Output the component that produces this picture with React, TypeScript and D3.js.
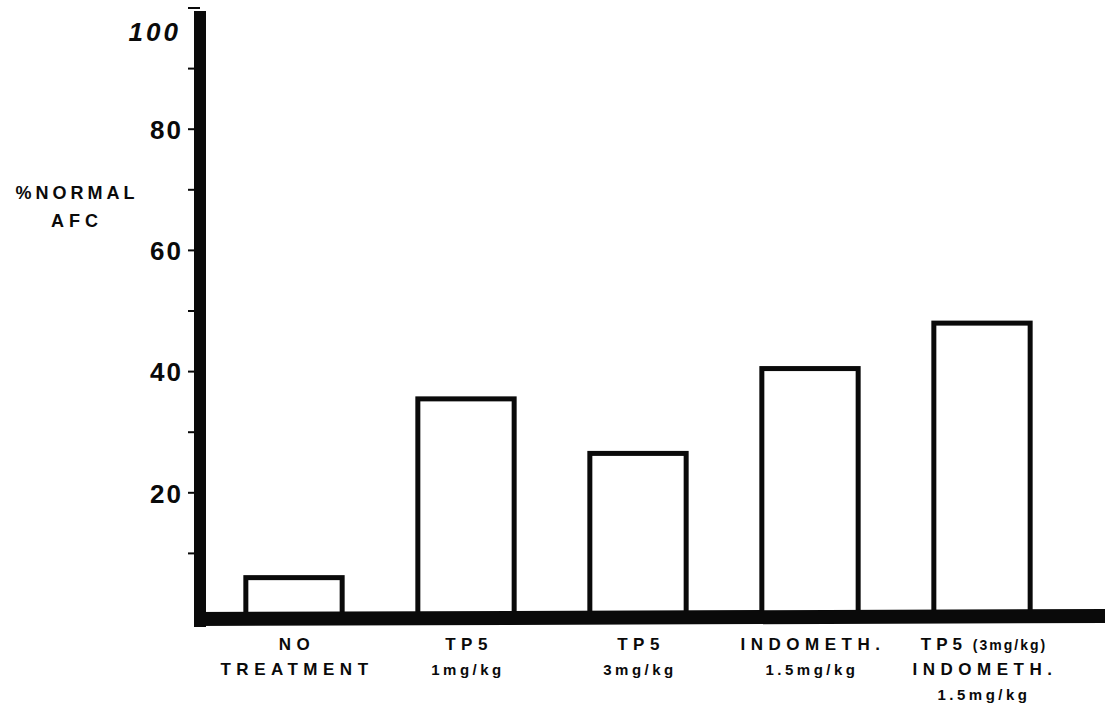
import * as d3 from 'd3';

// Data
const categories = ['NO TREATMENT', 'TP5 1mg/kg', 'TP5 3mg/kg', 'INDOMETH. 1.5mg/kg', 'TP5 (3mg/kg) INDOMETH. 1.5mg/kg'];
const categoryLines = [
  ['NO', 'TREATMENT'],
  ['TP5', '1mg/kg'],
  ['TP5', '3mg/kg'],
  ['INDOMETH.', '1.5mg/kg'],
  ['TP5 (3mg/kg)', 'INDOMETH.', '1.5mg/kg'],
];
const afcValues = [6, 35.5, 26.5, 40.5, 48];
const majorTicks = [20, 40, 60, 80, 100];
const minorTicks = [10, 30, 50, 70, 90];
const axisTitle = ['%NORMAL', 'AFC'];

const W = 1105;
const H = 707;
const INK = '#0a0a0a';
const FONT = '"Liberation Sans", Arial, sans-serif';

export default function App() {
  const x = d3
    .scaleBand<string>()
    .domain(categories)
    .range([208, 1068])
    .paddingInner(0.44)
    .paddingOuter(0.22);

  const y = d3.scaleLinear().domain([0, 100]).range([614, 8]);

  const axisX = 200;
  const baseY = 619;

  const capsLine = (s: string) => /^[A-Z0-9. ]+$/.test(s);

  return (
    <svg
      width={W}
      height={H}
      style={{ position: 'absolute', left: 0, top: 0, background: '#fff' }}
      fontFamily={FONT}
    >
      <rect width={W} height={H} fill="#fff" />

      {/* y-axis title */}
      {axisTitle.map((t, i) => (
        <text
          key={t}
          x={77}
          y={199 + i * 28}
          textAnchor="middle"
          fontSize={18}
          fontWeight="bold"
          letterSpacing={i === 0 ? 4 : 5}
          fill={INK}
        >
          {t}
        </text>
      ))}

      {/* tick marks */}
      {[...minorTicks, ...majorTicks].map((t) => (
        <line
          key={'t' + t}
          x1={axisX - 12}
          x2={axisX}
          y1={y(t)}
          y2={y(t)}
          stroke={INK}
          strokeWidth={2}
        />
      ))}

      {/* tick labels */}
      {majorTicks.map((t) => (
        <text
          key={'l' + t}
          x={t === 100 ? 181 : 183}
          y={y(t) + (t === 100 ? 26 : 3)}
          dominantBaseline="middle"
          textAnchor="end"
          fontSize={26}
          fontWeight="bold"
          fontStyle={t === 100 ? 'italic' : 'normal'}
          letterSpacing={t === 100 ? 3 : 2}
          fill={INK}
        >
          {t}
        </text>
      ))}

      {/* bars */}
      {categories.map((c, i) => (
        <rect
          key={c}
          x={x(c)!}
          y={y(afcValues[i])}
          width={x.bandwidth()}
          height={y(0) - y(afcValues[i]) + 2}
          fill="none"
          stroke={INK}
          strokeWidth={5}
        />
      ))}

      {/* axes */}
      <line x1={axisX} x2={axisX} y1={y(100) + 3} y2={baseY + 8} stroke={INK} strokeWidth={12} />
      <line x1={axisX - 6} x2={W} y1={baseY} y2={baseY - 3} stroke={INK} strokeWidth={14} />

      {/* category labels */}
      {categories.map((c, i) => {
        const cx = x(c)! + x.bandwidth() / 2;
        return categoryLines[i].map((line, j) => {
          const yy = 650 + j * 25;
          if (capsLine(line)) {
            return (
              <text
                key={c + j}
                x={cx + 3}
                y={yy}
                textAnchor="middle"
                fontSize={17}
                fontWeight="bold"
                letterSpacing={5.5}
                fill={INK}
              >
                {line}
              </text>
            );
          }
          const k = line.indexOf(' (');
          if (k > 0) {
            return (
              <text key={c + j} x={cx + 2} y={yy} textAnchor="middle" fontWeight="bold" fill={INK}>
                <tspan fontSize={17} letterSpacing={5}>
                  {line.slice(0, k)}
                </tspan>
                <tspan fontSize={14} letterSpacing={2}>
                  {line.slice(k)}
                </tspan>
              </text>
            );
          }
          return (
            <text
              key={c + j}
              x={cx + 2}
              y={yy}
              textAnchor="middle"
              fontSize={15}
              fontWeight="bold"
              letterSpacing={3.5}
              fill={INK}
            >
              {line}
            </text>
          );
        });
      })}
    </svg>
  );
}
